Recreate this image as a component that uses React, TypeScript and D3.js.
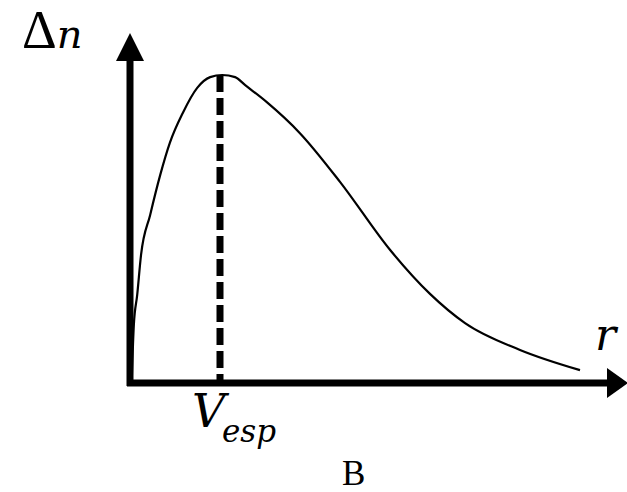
import React from "react";
import * as d3 from "d3";

// Distribution curve Δn(r): radius (relative units) and Δn (relative units)
const radius = [0.4, 0.8, 1.5, 2.3, 4.2, 6.3, 8.3, 11.0, 14.0, 16.7, 19.2, 21.9, 24.0, 28.5, 35.4, 43.75, 54.2, 62.5, 69.8, 81.25, 93.75];
const deltaN = [2.3, 16.7, 25.3, 36.8, 48.3, 59.8, 69.0, 77.6, 84.8, 87.9, 88.5, 87.9, 85.6, 80.7, 71.8, 57.8, 38.2, 25.6, 17.2, 9.5, 3.7];

// Most probable radius marked by the dashed line
const peakRadius = [18.75];
const peakValue = [88.5];

const W = 627;
const H = 492;

export default function App() {
  const x = d3.scaleLinear().domain([0, 100]).range([130, 610]);
  const y = d3.scaleLinear().domain([0, 100]).range([383, 35]);

  const pts: [number, number][] = radius.map((r, i) => [r, deltaN[i]]);
  const line = d3
    .line<[number, number]>()
    .x((d) => x(d[0]))
    .y((d) => y(d[1]))
    .curve(d3.curveMonotoneX);

  const x0 = x(0);
  const y0 = y(0);
  const serif = "Liberation Serif";
  const serifItalic = "DejaVu Serif";

  return (
    <svg
      width={W}
      height={H}
      viewBox={`0 0 ${W} ${H}`}
      style={{ position: "absolute", left: 0, top: 0, background: "#fff" }}
    >
      <rect x={0} y={0} width={W} height={H} fill="#fff" />

      {/* curve */}
      <path d={line(pts) || ""} fill="none" stroke="#000" strokeWidth={2.2} />

      {/* dashed marker at the peak */}
      <line
        x1={x(peakRadius[0])}
        x2={x(peakRadius[0])}
        y1={y(peakValue[0])}
        y2={y0}
        stroke="#000"
        strokeWidth={7}
        strokeDasharray="17 6"
      />

      {/* y axis with arrow */}
      <line x1={x0} x2={x0} y1={y0 + 3} y2={55} stroke="#000" strokeWidth={7} />
      <path d={`M${x0},33 L${x0 + 14},61 L${x0 - 14},61 Z`} fill="#000" />

      {/* x axis with arrow */}
      <line x1={x0 - 3} x2={612} y1={y0} y2={y0} stroke="#000" strokeWidth={7} />
      <path d={`M628,${y0} L607,${y0 - 15} L607,${y0 + 15} Z`} fill="#000" />

      {/* labels */}
      <text x={22} y={48} fontFamily={serif} fontSize={54} fill="#000">
        Δ<tspan fontFamily={serifItalic} fontStyle="italic" fontSize={40}>n</tspan>
      </text>
      <text x={595} y={350} fontFamily={serifItalic} fontSize={44} fontStyle="italic" fill="#000">
        r
      </text>
      <text x={192} y={427} fontFamily={serifItalic} fontSize={46} fontStyle="italic" fill="#000">
        V
      </text>
      <text x={222} y={442} fontFamily={serifItalic} fontSize={31} fontStyle="italic" fill="#000">
        esp
      </text>
      <text x={342} y={485} fontFamily={serif} fontSize={35} fill="#000">
        B
      </text>
    </svg>
  );
}
